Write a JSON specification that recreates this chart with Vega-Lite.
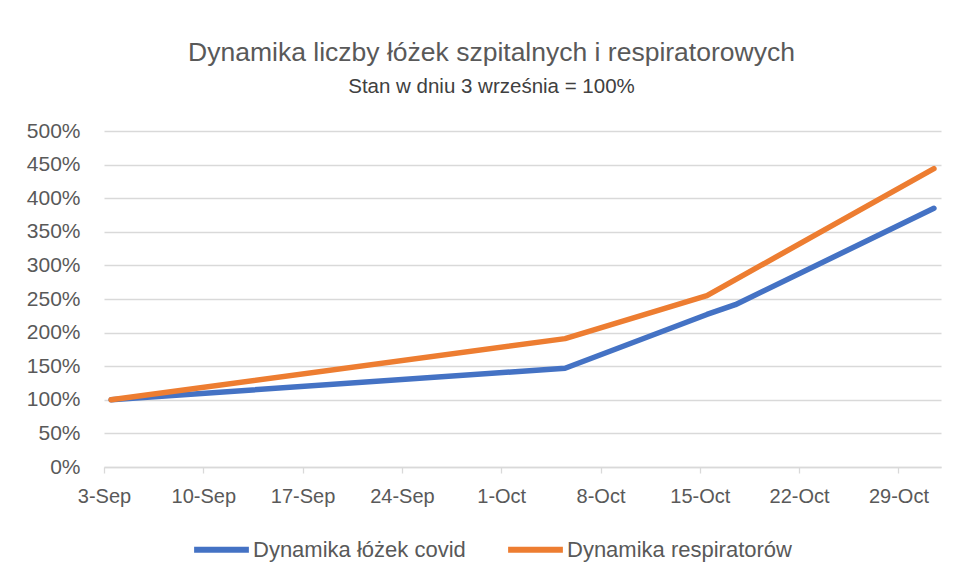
{
  "$schema": "https://vega.github.io/schema/vega-lite/v6.json",
  "autosize": {"type": "none"},
  "width": 837,
  "height": 336,
  "padding": {"left": 104, "top": 131, "right": 16, "bottom": 117},
  "background": "white",
  "title": {
    "text": "Dynamika liczby łóżek szpitalnych i respiratorowych",
    "subtitle": "Stan w dniu 3 września = 100%",
    "anchor": "middle",
    "frame": "group",
    "dx": -31,
    "offset": 23,
    "font": "Liberation Sans",
    "fontSize": 26.5,
    "fontWeight": "normal",
    "color": "#595959",
    "subtitleFont": "Liberation Sans",
    "subtitleFontSize": 20.5,
    "subtitleColor": "#404040",
    "subtitlePadding": 10
  },
  "config": {
    "view": {"stroke": null},
    "font": "Liberation Sans"
  },
  "data": {
    "values": [
      {"seria": "Dynamika łóżek covid", "data": "2020-09-03T12:00", "wartosc": 1.0},
      {"seria": "Dynamika łóżek covid", "data": "2020-10-05T12:00", "wartosc": 1.47},
      {"seria": "Dynamika łóżek covid", "data": "2020-10-15T12:00", "wartosc": 2.27},
      {"seria": "Dynamika łóżek covid", "data": "2020-10-17T12:00", "wartosc": 2.415},
      {"seria": "Dynamika łóżek covid", "data": "2020-10-31T12:00", "wartosc": 3.85},
      {"seria": "Dynamika respiratorów", "data": "2020-09-03T12:00", "wartosc": 1.0},
      {"seria": "Dynamika respiratorów", "data": "2020-10-05T12:00", "wartosc": 1.91},
      {"seria": "Dynamika respiratorów", "data": "2020-10-15T12:00", "wartosc": 2.55},
      {"seria": "Dynamika respiratorów", "data": "2020-10-31T12:00", "wartosc": 4.44}
    ]
  },
  "mark": {"type": "line", "strokeWidth": 5.5, "strokeCap": "round", "strokeJoin": "round"},
  "encoding": {
    "x": {
      "field": "data",
      "type": "temporal",
      "scale": {
        "domain": [
          {"year": 2020, "month": "Sep", "date": 3},
          {"year": 2020, "month": "Nov", "date": 1}
        ]
      },
      "axis": {
        "title": null,
        "grid": false,
        "values": [
          {"year": 2020, "month": "Sep", "date": 3},
          {"year": 2020, "month": "Sep", "date": 10},
          {"year": 2020, "month": "Sep", "date": 17},
          {"year": 2020, "month": "Sep", "date": 24},
          {"year": 2020, "month": "Oct", "date": 1},
          {"year": 2020, "month": "Oct", "date": 8},
          {"year": 2020, "month": "Oct", "date": 15},
          {"year": 2020, "month": "Oct", "date": 22},
          {"year": 2020, "month": "Oct", "date": 29}
        ],
        "format": "%-d-%b",
        "labelFont": "Liberation Sans",
        "labelFontSize": 20,
        "labelColor": "#595959",
        "labelPadding": 13,
        "labelFlush": false,
        "labelOverlap": false,
        "domainColor": "#D9D9D9",
        "domainWidth": 1.3,
        "tickColor": "#D9D9D9",
        "tickWidth": 1.3,
        "tickSize": 6
      }
    },
    "y": {
      "field": "wartosc",
      "type": "quantitative",
      "scale": {"domain": [0, 5], "nice": false},
      "axis": {
        "title": null,
        "values": [0, 0.5, 1, 1.5, 2, 2.5, 3, 3.5, 4, 4.5, 5],
        "format": ".0%",
        "domain": false,
        "ticks": false,
        "labelPadding": 24,
        "labelFont": "Liberation Sans",
        "labelFontSize": 21,
        "labelColor": "#595959",
        "gridColor": "#D9D9D9",
        "gridWidth": 1.3
      }
    },
    "color": {
      "field": "seria",
      "type": "nominal",
      "scale": {
        "domain": ["Dynamika łóżek covid", "Dynamika respiratorów"],
        "range": ["#4472C4", "#ED7D31"]
      },
      "legend": {
        "title": null,
        "orient": "none",
        "direction": "horizontal",
        "legendX": 87,
        "legendY": 388,
        "symbolType": "stroke",
        "symbolSize": 3000,
        "symbolStrokeWidth": 6,
        "labelFont": "Liberation Sans",
        "labelFontSize": 22,
        "labelLimit": 0,
        "labelColor": "#595959",
        "labelOffset": 1,
        "columnPadding": 30
      }
    }
  }
}
